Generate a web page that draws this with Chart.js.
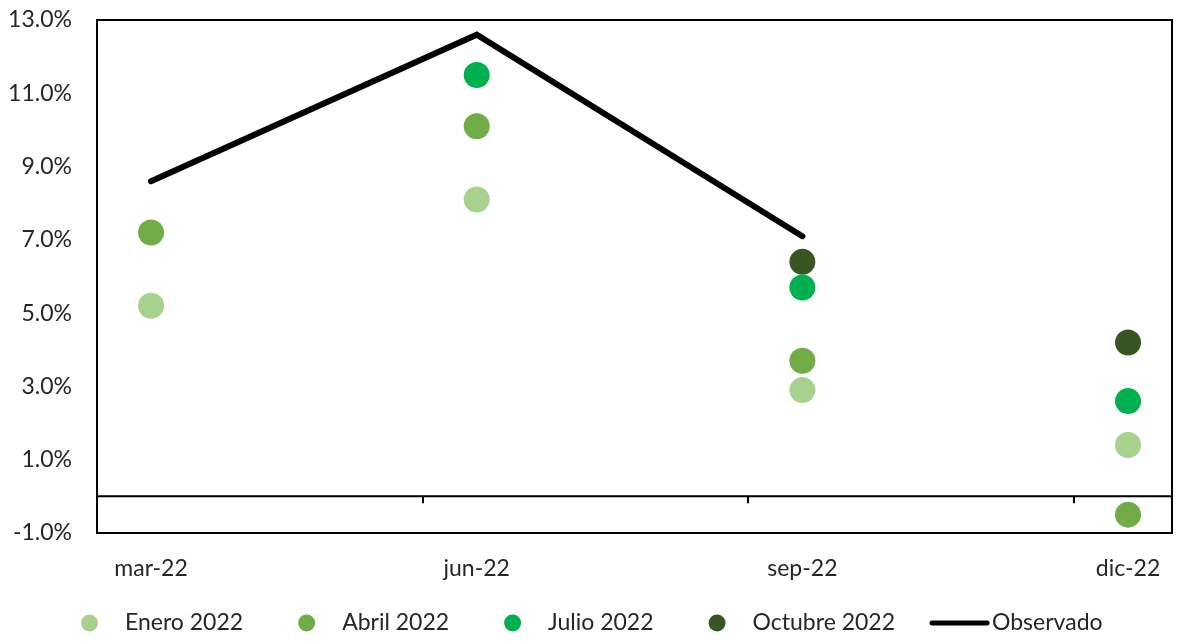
<!DOCTYPE html>
<html>
<head>
<meta charset="utf-8">
<script src="https://cdn.jsdelivr.net/npm/chart.js@4/dist/chart.umd.min.js"></script>
<style>
    html, body { margin: 0; padding: 0; background: #fff; }
    #wrap { width: 1191px; height: 642px; }
</style>
</head>
<body>
<div id="wrap"><canvas id="chart"></canvas></div>
<script>
const categories = ['mar-22', 'jun-22', 'sep-22', 'dic-22'];
const enero = [5.2, 8.1, 2.9, 1.4];
const abril = [7.2, 10.1, 3.7, -0.5];
const julio = [null, 11.5, 5.7, 2.6];
const octubre = [null, null, 6.4, 4.2];
const observado = [8.6, 12.6, 7.1, null];
const yTicks = [-1, 1, 3, 5, 7, 9, 11, 13];

const FONT = 'Lato';
const TEXT = '#262626';

function toPoints(values) {
    return values
        .map((v, i) => ({ x: i, y: v }))
        .filter((p) => p.y !== null);
}

function dots(label, values, color) {
    return {
        type: 'scatter',
        label,
        data: toPoints(values),
        backgroundColor: color,
        borderWidth: 0,
        pointRadius: 13,
        pointHoverRadius: 13,
    };
}

// plot frame, zero line with its small ticks
const framePlugin = {
    id: 'frame',
    afterDatasetsDraw(chart) {
        const { ctx, chartArea: a, scales } = chart;
        const y0 = scales.y.getPixelForValue(0);
        ctx.save();
        ctx.strokeStyle = '#000';
        ctx.lineWidth = 2;
        ctx.strokeRect(a.left, a.top, a.right - a.left, a.bottom - a.top);
        ctx.beginPath();
        ctx.moveTo(a.left, y0);
        ctx.lineTo(a.right, y0);
        for (let k = 1; k < categories.length; k++) {
            const px = Math.round(scales.x.getPixelForValue(scales.x.min + k));
            ctx.moveTo(px, y0);
            ctx.lineTo(px, y0 + 7);
        }
        ctx.stroke();
        ctx.restore();
    },
};

// legend drawn below the axis labels
const legendPlugin = {
    id: 'bottomLegend',
    afterDraw(chart) {
        const { ctx } = chart;
        const cy = 623;
        let x = 81;
        ctx.save();
        ctx.font = `23px ${FONT}`;
        ctx.textBaseline = 'middle';
        chart.data.datasets.forEach((ds, i) => {
            if (ds.type === 'line') {
                if (i > 0) x -= 21;
                ctx.strokeStyle = ds.borderColor;
                ctx.lineWidth = 5;
                ctx.lineCap = 'round';
                ctx.beginPath();
                ctx.moveTo(x + 3, cy);
                ctx.lineTo(x + 58, cy);
                ctx.stroke();
                x += 63;
            } else {
                ctx.fillStyle = ds.backgroundColor;
                ctx.beginPath();
                ctx.arc(x + 8.5, cy, 8.5, 0, Math.PI * 2);
                ctx.fill();
                x += 44;
            }
            ctx.fillStyle = TEXT;
            ctx.fillText(ds.label, x, cy);
            x += ctx.measureText(ds.label).width + 55;
        });
        ctx.restore();
    },
};

new Chart(document.getElementById('chart'), {
    data: {
        datasets: [
            dots('Enero 2022', enero, '#a9d18e'),
            dots('Abril 2022', abril, '#70ad47'),
            dots('Julio 2022', julio, '#00b050'),
            dots('Octubre 2022', octubre, '#375623'),
            {
                type: 'line',
                label: 'Observado',
                data: toPoints(observado),
                borderColor: '#000',
                borderWidth: 6,
                borderCapStyle: 'round',
                borderJoinStyle: 'miter',
                pointRadius: 0,
                tension: 0,
            },
        ],
    },
    options: {
        responsive: true,
        maintainAspectRatio: false,
        animation: false,
        layout: {
            autoPadding: false,
            padding: { top: 20, right: 19, left: 0, bottom: 0 },
        },
        plugins: {
            legend: { display: false },
            tooltip: { enabled: false },
        },
        scales: {
            x: {
                type: 'linear',
                min: -0.166,
                max: 3.135,
                afterFit(scale) {
                    scale.height = 109;
                    scale.paddingLeft = 0;
                    scale.paddingRight = 0;
                },
                afterBuildTicks(scale) {
                    scale.ticks = categories.map((_, i) => ({ value: i }));
                },
                ticks: {
                    padding: 14,
                    color: TEXT,
                    font: { family: FONT, size: 23 },
                    maxRotation: 0,
                    callback(value) {
                        return categories[value];
                    },
                },
                grid: { display: false },
                border: { display: false },
            },
            y: {
                min: -1,
                max: 13,
                afterFit(scale) {
                    scale.width = 97;
                    scale.paddingTop = 0;
                    scale.paddingBottom = 0;
                },
                afterBuildTicks(scale) {
                    scale.ticks = yTicks.map((v) => ({ value: v }));
                },
                ticks: {
                    padding: 17,
                    color: TEXT,
                    font: { family: FONT, size: 23 },
                    callback(value) {
                        return `${Number(value).toFixed(1)}%`;
                    },
                },
                grid: { display: false },
                border: { display: false },
            },
        },
    },
    plugins: [framePlugin, legendPlugin],
});
</script>
</body>
</html>
